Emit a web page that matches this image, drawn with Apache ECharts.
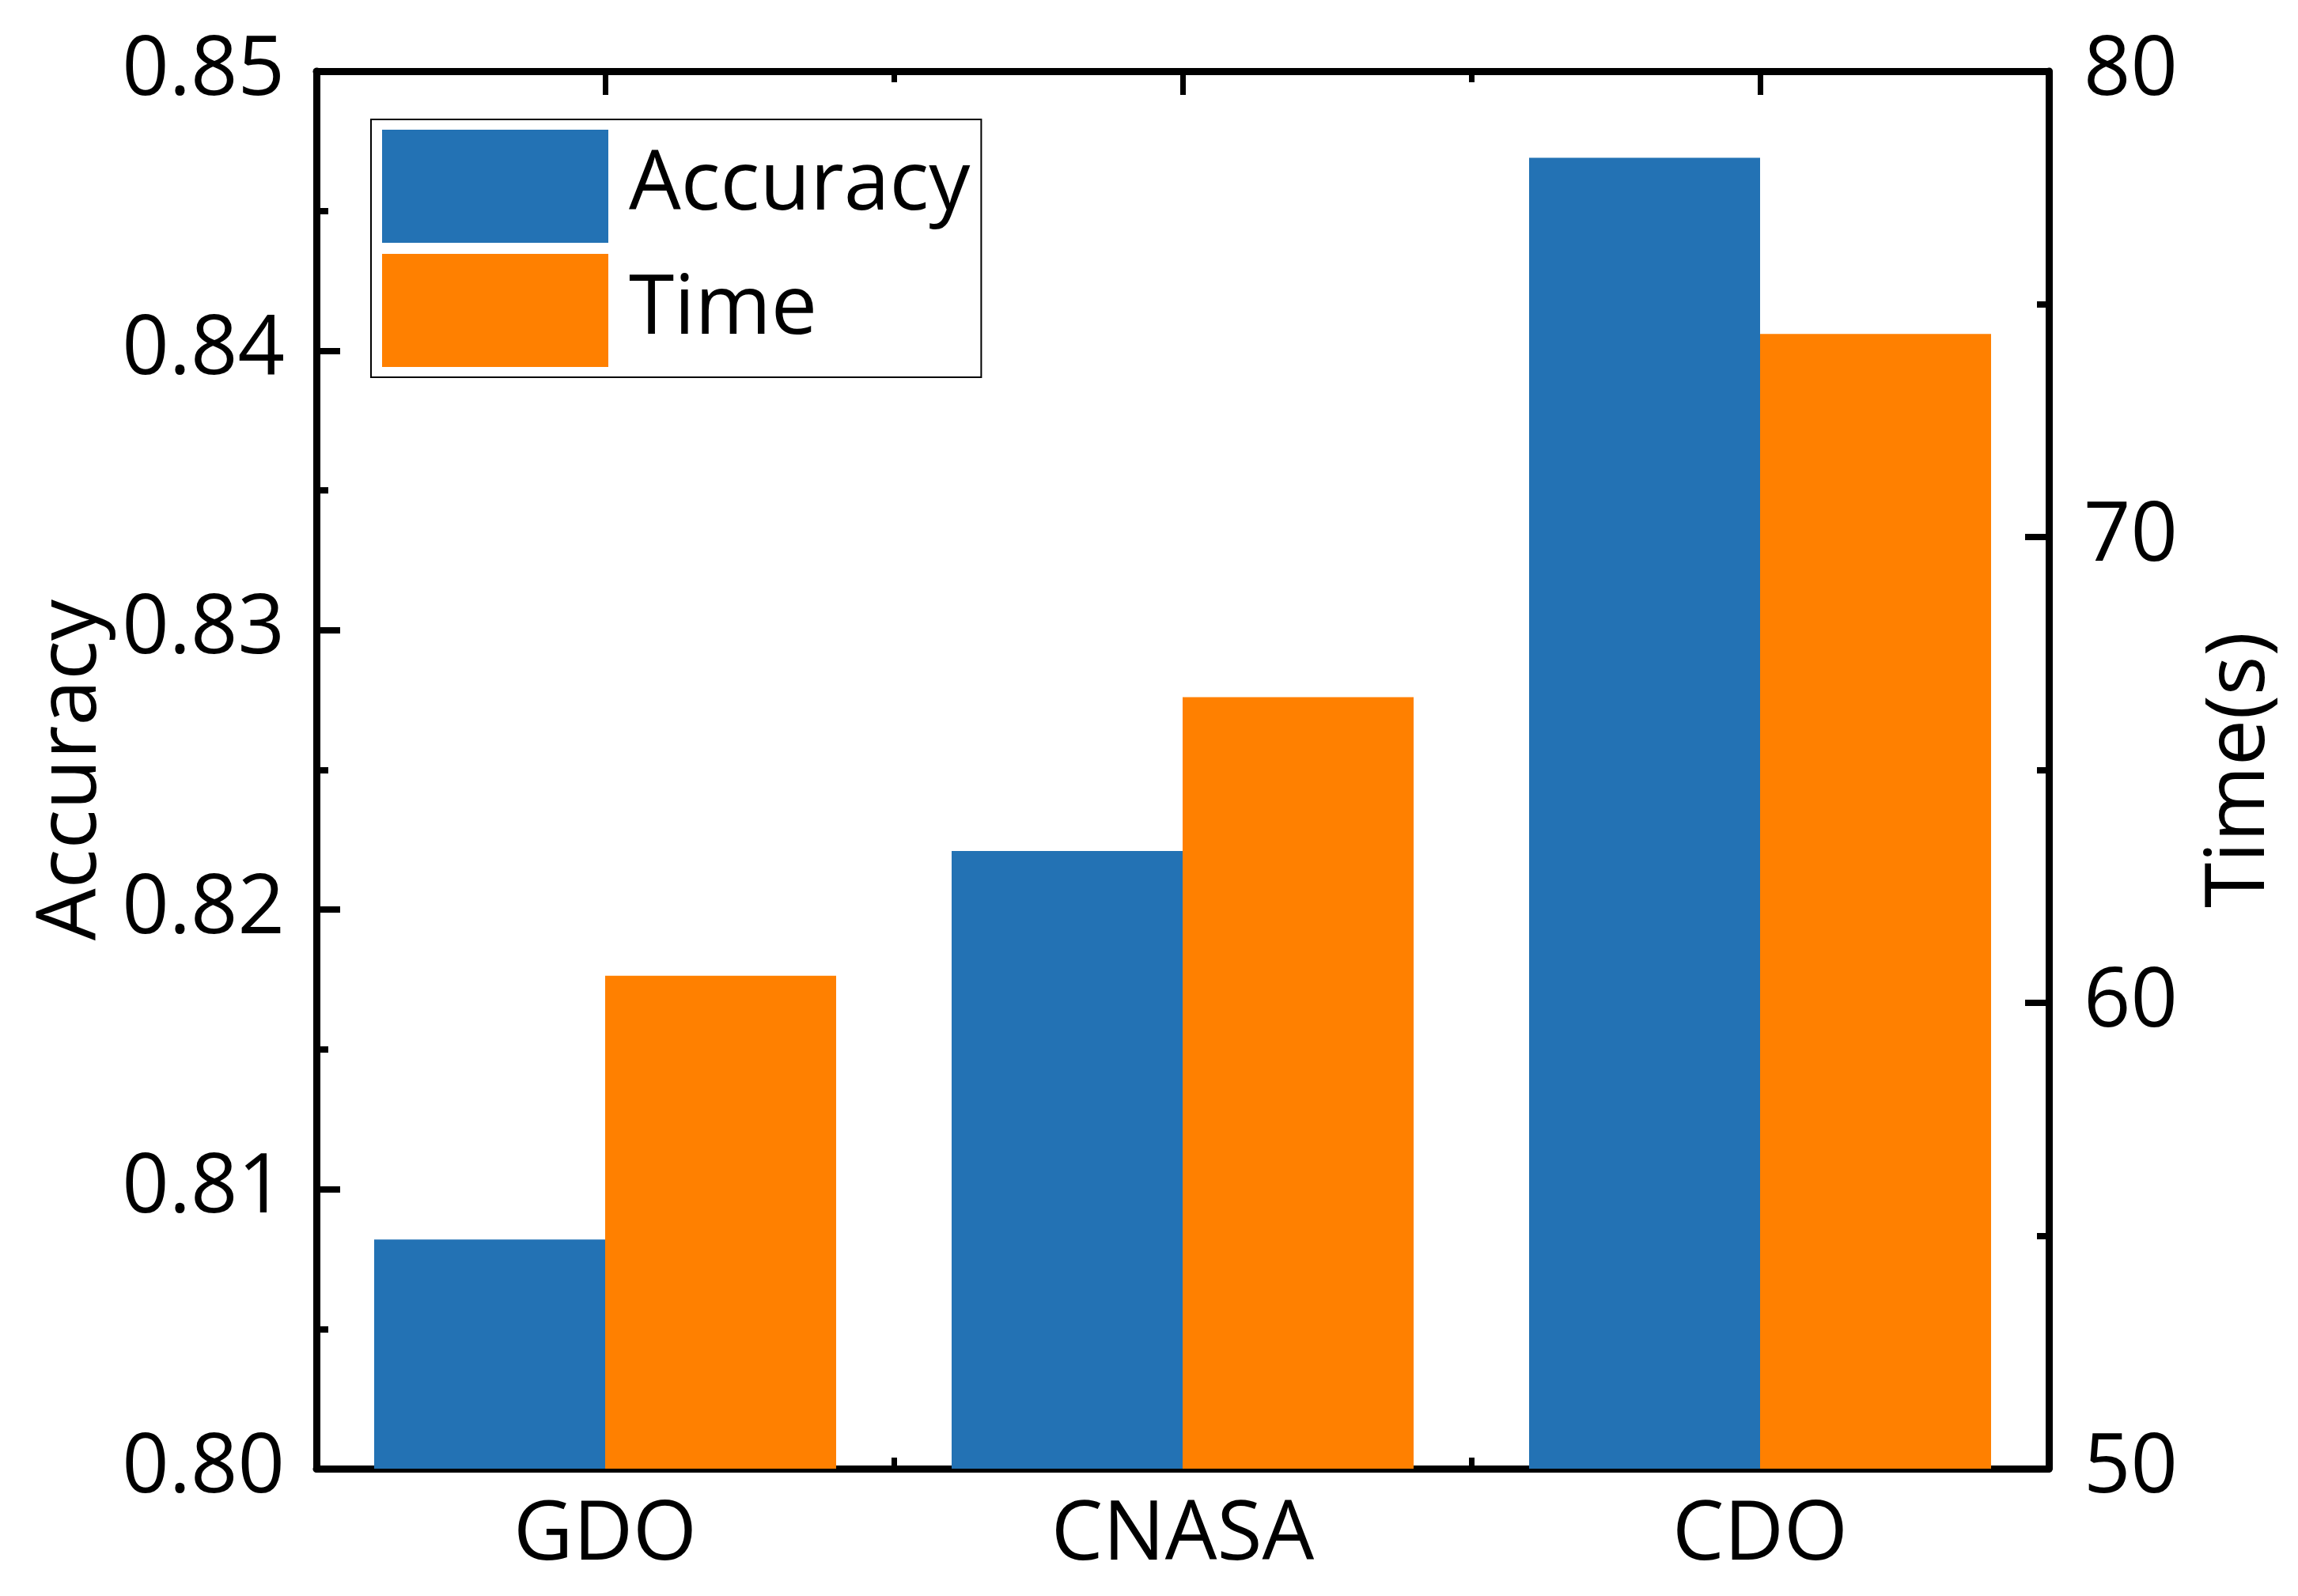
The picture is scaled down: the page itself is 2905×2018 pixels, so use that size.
<!DOCTYPE html>
<html>
<head>
<meta charset="utf-8">
<script src="https://cdn.jsdelivr.net/npm/echarts@6/dist/echarts.min.js"></script>
<style>
html, body { margin: 0; padding: 0; background: #fff; }
#chart { width: 2905px; height: 2018px; }
</style>
</head>
<body>
<div id="chart"></div>
<script>
var categories = ['GDO', 'CNASA', 'CDO'];
var accuracy = [0.8082, 0.8221, 0.8469];
var time = [60.58, 66.56, 74.36];

var font = 'Open Sans';
var fs = 104;
var dom = document.getElementById('chart');
var myChart = echarts.init(dom);

var line = { show: true, lineStyle: { color: '#000', width: 9 } };

function catAxis(pos, main) {
    return {
        type: 'category',
        position: pos,
        data: categories,
        boundaryGap: true,
        axisLine: main ? line : { show: false },
        axisTick: {
            show: true,
            inside: true,
            alignWithLabel: main,
            length: main ? 30 : 14,
            lineStyle: { color: '#000', width: 7 }
        },
        axisLabel: {
            show: main && pos === 'bottom',
            color: '#000',
            fontFamily: font,
            fontSize: fs,
            margin: 33
        },
        splitLine: { show: false }
    };
}

option = {
    animation: false,
    backgroundColor: '#fff',
    color: ['#2372b4', '#ff8000'],
    grid: { left: 400, right: 315, top: 90, bottom: 161, containLabel: false },
    legend: {
        left: 469,
        top: 151,
        orient: 'vertical',
        icon: 'rect',
        itemWidth: 286,
        itemHeight: 143,
        itemGap: 14,
        padding: [13, 14, 13, 14],
        borderColor: '#000',
        borderWidth: 2,
        textStyle: { color: '#000', fontFamily: font, fontSize: fs, padding: [18, 0, 0, 21] },
        data: ['Accuracy', 'Time']
    },
    xAxis: [
        catAxis('bottom', true),
        catAxis('bottom', false),
        catAxis('top', true),
        catAxis('top', false)
    ],
    yAxis: [
        {
            type: 'value',
            position: 'left',
            min: 0.80,
            max: 0.85,
            interval: 0.01,
            name: 'Accuracy',
            nameLocation: 'middle',
            nameGap: 250,
            nameTextStyle: { color: '#000', fontFamily: font, fontSize: fs },
            axisLine: line,
            axisTick: { show: true, inside: true, length: 30, lineStyle: { color: '#000', width: 8 } },
            minorTick: { show: true, splitNumber: 2, length: 15, lineStyle: { color: '#000', width: 8 } },
            axisLabel: {
                color: '#000', fontFamily: font, fontSize: fs, margin: 40,
                formatter: function (v) { return v.toFixed(2); }
            },
            splitLine: { show: false }
        },
        {
            type: 'value',
            position: 'right',
            min: 50,
            max: 80,
            interval: 10,
            name: 'Time(s)',
            nameLocation: 'middle',
            nameGap: 190,
            nameTextStyle: { color: '#000', fontFamily: font, fontSize: fs },
            axisLine: line,
            axisTick: { show: true, inside: true, length: 30, lineStyle: { color: '#000', width: 8 } },
            minorTick: { show: true, splitNumber: 2, length: 15, lineStyle: { color: '#000', width: 8 } },
            axisLabel: { color: '#000', fontFamily: font, fontSize: fs, margin: 44 },
            splitLine: { show: false }
        }
    ],
    series: [
        {
            name: 'Accuracy',
            type: 'bar',
            xAxisIndex: 0,
            yAxisIndex: 0,
            barWidth: '40%',
            barGap: '0%',
            data: accuracy
        },
        {
            name: 'Time',
            type: 'bar',
            xAxisIndex: 0,
            yAxisIndex: 1,
            barWidth: '40%',
            barGap: '0%',
            data: time
        }
    ]
};

if (option && typeof option === 'object') {
    myChart.setOption(option, true);
}
</script>
</body>
</html>
